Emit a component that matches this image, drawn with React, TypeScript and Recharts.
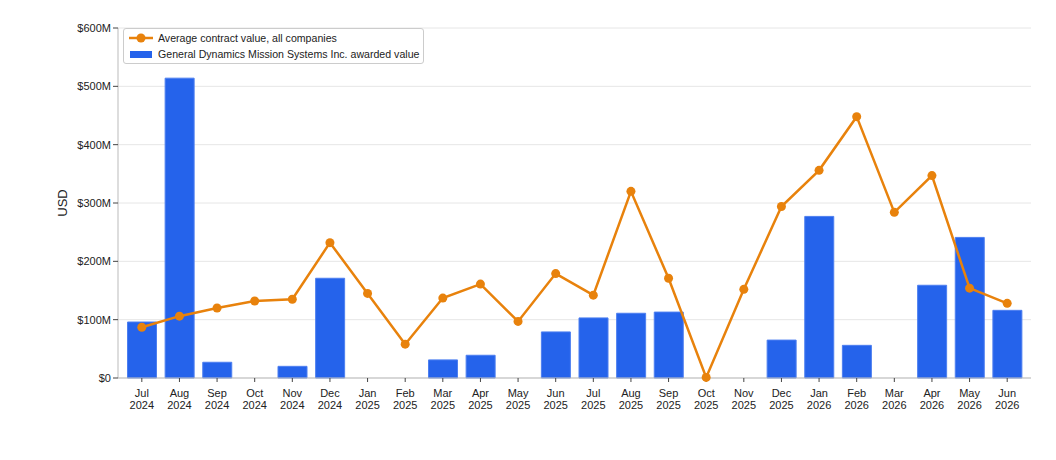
import { ComposedChart, Bar, Line, XAxis, YAxis, CartesianGrid } from "recharts"

const months = [
    "Jul 2024", "Aug 2024", "Sep 2024", "Oct 2024", "Nov 2024", "Dec 2024",
    "Jan 2025", "Feb 2025", "Mar 2025", "Apr 2025", "May 2025", "Jun 2025",
    "Jul 2025", "Aug 2025", "Sep 2025", "Oct 2025", "Nov 2025", "Dec 2025",
    "Jan 2026", "Feb 2026", "Mar 2026", "Apr 2026", "May 2026", "Jun 2026",
]

// awarded value, millions USD
const awarded = [
    96, 514, 27, 0, 20, 171,
    0, 0, 31, 39, 0, 79,
    103, 111, 113, 0, 0, 65,
    277, 56, 0, 159, 241, 116,
]

// average contract value across all companies, millions USD
const average = [
    87, 106, 120, 132, 135, 232,
    145, 58, 137, 161, 97, 179,
    142, 320, 171, 1, 152, 294,
    356, 448, 284, 347, 154, 128,
]

const yTicks = [0, 100, 200, 300, 400, 500, 600]

const data = months.map((m, i) => ({
    month: m,
    awarded: awarded[i] * 1e6,
    average: average[i] * 1e6,
}))

const font = "'Liberation Sans', Arial, sans-serif"
const ORANGE = "#e8820c"
const BLUE = "#2563eb"

function MonthTick({ x, y, payload }: any) {
    const [mon, yr] = String(payload.value).split(" ")
    return (
        <text x={x} y={y} textAnchor="middle" fontSize={11} fill="#222" fontFamily={font}>
            <tspan x={x} dy={13}>{mon}</tspan>
            <tspan x={x} dy={12}>{yr}</tspan>
        </text>
    )
}

function LegendBox() {
    return (
        <div style={{
            position: "absolute", left: 115, top: 20,
            border: "1px solid #ccc", borderRadius: 3, background: "#fff",
            padding: "1px 4px 1px 4px", fontSize: 10.6, fontFamily: font, color: "#222",
            lineHeight: "16px", whiteSpace: "nowrap",
        }}>
            <div style={{ display: "flex", alignItems: "center" }}>
                <svg width={26} height={12} style={{ marginRight: 4 }}>
                    <line x1={1} y1={6} x2={25} y2={6} stroke={ORANGE} strokeWidth={2.5} />
                    <circle cx={13} cy={6} r={4.5} fill={ORANGE} />
                </svg>
                Average contract value, all companies
            </div>
            <div style={{ display: "flex", alignItems: "center" }}>
                <svg width={26} height={12} style={{ marginRight: 4 }}>
                    <rect x={2} y={3} width={22} height={7} fill={BLUE} />
                </svg>
                General Dynamics Mission Systems Inc. awarded value
            </div>
        </div>
    )
}

export default function App() {
    return (
        <div style={{ position: "relative", width: 1048, height: 452 }}>
            <ComposedChart
                width={1048}
                height={452}
                data={data}
                margin={{ top: 20, right: 25, bottom: 41, left: 38 }}
                barCategoryGap="12%"
            >
                <CartesianGrid vertical={false} stroke="#e6e6e6" />
                <XAxis
                    dataKey="month"
                    interval={0}
                    tick={<MonthTick />}
                    tickLine={{ stroke: "#444" }}
                    tickSize={4}
                    axisLine={{ stroke: "#bbb" }}
                    padding={{ left: 5, right: 5 }}
                    height={41}
                />
                <YAxis
                    domain={[0, 600e6]}
                    ticks={yTicks.map(t => t * 1e6)}
                    tickFormatter={(v: number) => (v === 0 ? "$0" : `$${v / 1e6}M`)}
                    tick={{ fontSize: 11, fill: "#222", fontFamily: font }}
                    tickLine={{ stroke: "#444" }}
                    tickSize={5}
                    axisLine={{ stroke: "#bbb" }}
                    width={72}
                    label={{
                        value: "USD", angle: -90, position: "insideLeft", offset: 16,
                        style: { fontSize: 13, fill: "#222", fontFamily: font, textAnchor: "middle" },
                    }}
                />
                <Bar
                    dataKey="awarded"
                    name="General Dynamics Mission Systems Inc. awarded value"
                    fill={BLUE}
                    stroke="#4d7ff0"
                    strokeWidth={1}
                    isAnimationActive={false}
                />
                <Line
                    dataKey="average"
                    name="Average contract value, all companies"
                    stroke={ORANGE}
                    strokeWidth={2.5}
                    dot={{ r: 4.5, fill: ORANGE, stroke: ORANGE, strokeWidth: 0 }}
                    activeDot={false}
                    isAnimationActive={false}
                />
            </ComposedChart>
            <LegendBox />
        </div>
    )
}
